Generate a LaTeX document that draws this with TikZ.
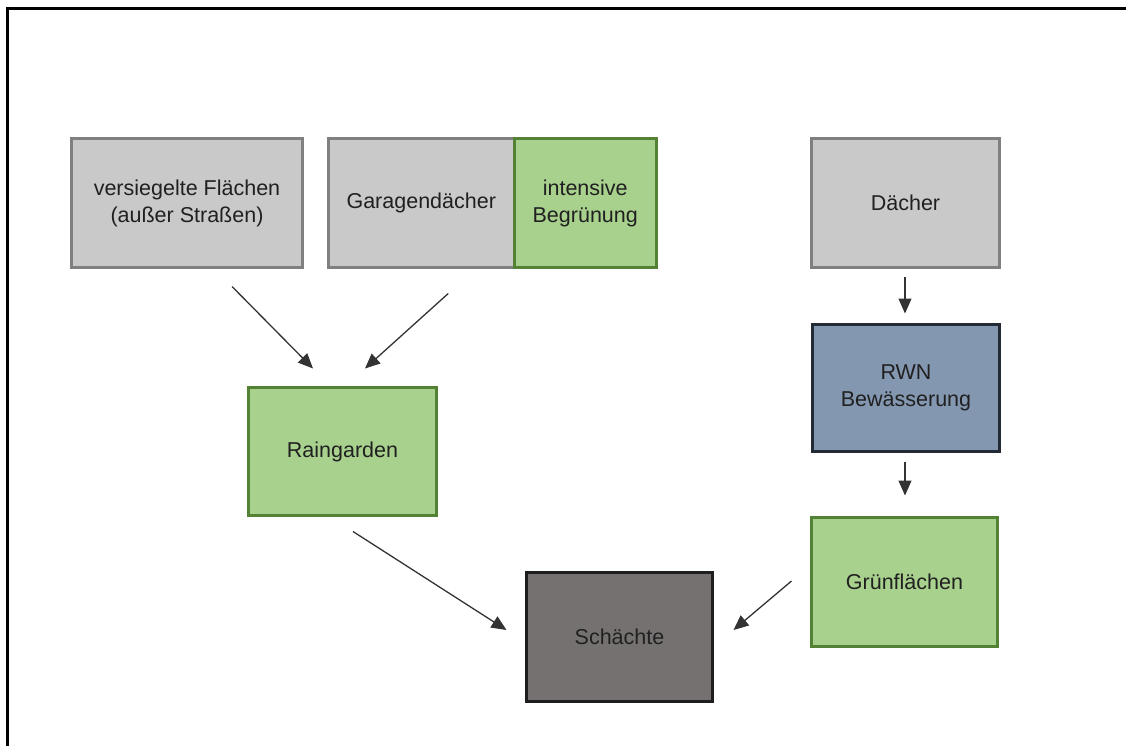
\documentclass[tikz,border=0pt]{standalone}
\usepackage{fontspec}
\setmainfont{Liberation Sans}
\usetikzlibrary{arrows.meta,calc}
\definecolor{grayfill}{HTML}{C9C9C9}
\definecolor{grayline}{HTML}{808080}
\definecolor{greenfill}{HTML}{A9D18E}
\definecolor{greenline}{HTML}{548235}
\definecolor{bluefill}{HTML}{8497B0}
\definecolor{blueline}{HTML}{222A35}
\definecolor{darkfill}{HTML}{767171}
\definecolor{darkline}{HTML}{1E1E1E}
\definecolor{txt}{HTML}{202020}
\definecolor{arr}{HTML}{333333}
\tikzset{
  box/.style={rectangle, inner sep=0pt, line width=3pt, align=center,
    text=txt, font=\fontsize{21.5}{27}\selectfont},
  graybox/.style={box, draw=grayline, fill=grayfill},
  greenbox/.style={box, draw=greenline, fill=greenfill},
  bluebox/.style={box, draw=blueline, fill=bluefill},
  darkbox/.style={box, draw=darkline, fill=darkfill},
  flow/.style={draw=arr, line width=1.3pt, -{Triangle[length=15pt,width=13pt]}}
}
\begin{document}
\begin{tikzpicture}[x=1pt,y=-1pt]
\useasboundingbox (0,0) rectangle (1126,745);
\draw[line width=3pt, line join=miter] (1130,8.5) -- (7,8.5) -- (7,750);

\node[graybox, minimum width=231pt, minimum height=129pt] (vf) at (187,203) {versiegelte Flächen\\(außer Straßen)};
\node[graybox, minimum width=185.5pt, minimum height=129pt] (ga) at (421.25,203) {Garagendächer};
\node[greenbox, minimum width=142.5pt, minimum height=129pt] (ib) at (585.25,203) {intensive\\Begrünung};
\node[graybox, minimum width=188pt, minimum height=129pt] (da) at (905.5,203) {Dächer};
\node[bluebox, minimum width=187pt, minimum height=127pt] (rwn) at (906,388) {RWN\\Bewässerung};
\node[greenbox, minimum width=188pt, minimum height=128pt] (rg) at (342.5,451.5) {Raingarden};
\node[darkbox, minimum width=186pt, minimum height=129pt] (sc) at (619.5,637) {Schächte};
\node[greenbox, minimum width=186pt, minimum height=129pt] (gr) at (904.5,582) {Grünflächen};

\draw[flow] ($(vf.south)+(45,17.5)$) -- ($(rg.north)+(-29.5,-17.5)$);
\draw[flow] ($(ga.south)+(27,24.5)$) -- ($(rg.north)+(22.5,-17.5)$);
\draw[flow] ($(da.south)+(-0.5,7.5)$) -- ($(rwn.north)+(-1,-9.5)$);
\draw[flow] ($(rwn.south)+(-1,8.5)$) -- ($(gr.north)+(0.5,-20.5)$);
\draw[flow] ($(rg.south)+(10.5,14.5)$) -- ($(sc.west)+(-18.5,-7)$);
\draw[flow] ($(gr.west)+(-18.5,-1)$) -- ($(sc.east)+(19.5,-7)$);
\end{tikzpicture}
\end{document}
